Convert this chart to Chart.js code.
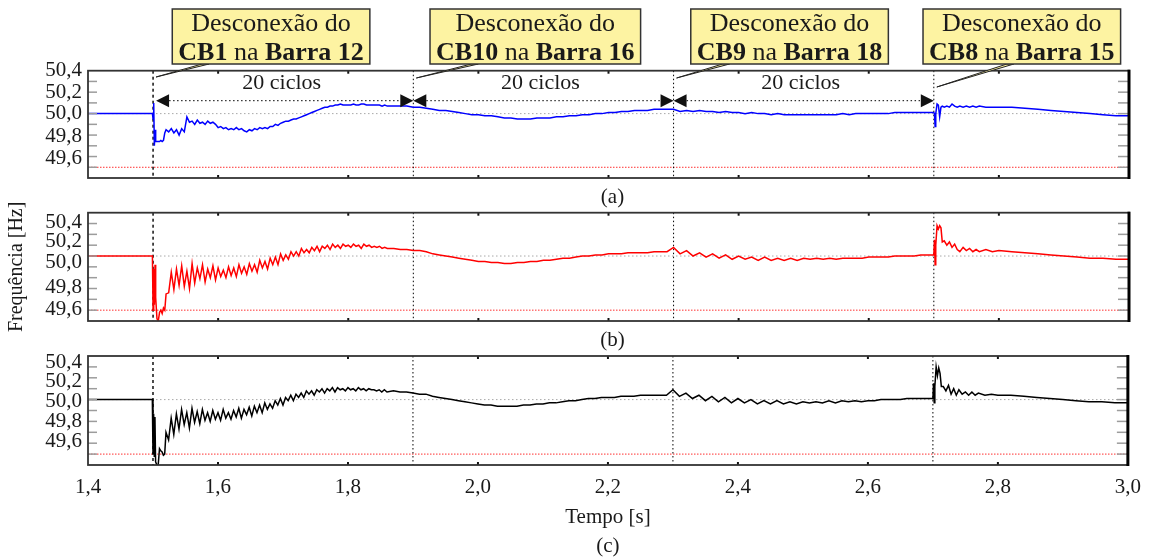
<!DOCTYPE html>
<html>
<head>
<meta charset="utf-8">
<script src="https://cdn.jsdelivr.net/npm/chart.js@4.4.1/dist/chart.umd.min.js"></script>
<style>
  html, body { margin: 0; padding: 0; background: #fff; }
  #wrap { position: relative; width: 1151px; height: 557px; }
  #wrap canvas { position: absolute; left: 0; top: 0; }
</style>
</head>
<body>
<div id="wrap">
  <canvas id="chartA" width="1151" height="557"></canvas>
  <canvas id="chartB" width="1151" height="557"></canvas>
  <canvas id="chartC" width="1151" height="557"></canvas>
</div>
<script>
// instantes de amostragem (s), comuns aos tres graficos
const tempo = [
  1.400, 1.499,
  1.500, 1.501, 1.502, 1.503, 1.504, 1.506, 1.508, 1.510, 1.512, 1.514, 1.516, 1.518, 1.520,
  1.524, 1.528, 1.532, 1.536, 1.540, 1.544, 1.548, 1.552, 1.556, 1.560,
  1.564, 1.568, 1.572, 1.576, 1.580, 1.584, 1.588, 1.592, 1.596, 1.600,
  1.604, 1.608, 1.612, 1.616, 1.620, 1.624, 1.628, 1.632, 1.636, 1.640,
  1.644, 1.648, 1.652, 1.656, 1.660, 1.664, 1.668, 1.672, 1.676, 1.680,
  1.684, 1.688, 1.692, 1.696, 1.700, 1.704, 1.708, 1.712, 1.716, 1.720,
  1.724, 1.728, 1.732, 1.736, 1.740, 1.744, 1.748, 1.752, 1.756, 1.760,
  1.764, 1.768, 1.772, 1.776, 1.780, 1.784, 1.788, 1.792, 1.796, 1.800,
  1.804, 1.808, 1.812, 1.816, 1.820, 1.824, 1.828, 1.832, 1.836, 1.840,
  1.844, 1.848, 1.852, 1.856, 1.860,
  1.87, 1.88, 1.89, 1.90, 1.91, 1.92, 1.93, 1.94, 1.95, 1.96,
  1.97, 1.98, 1.99, 2.00, 2.01, 2.02, 2.03, 2.04, 2.05, 2.06,
  2.07, 2.08, 2.09, 2.10, 2.11, 2.12, 2.13, 2.14, 2.15, 2.16,
  2.17, 2.18, 2.19, 2.20, 2.21, 2.22, 2.23, 2.24, 2.25, 2.26,
  2.27, 2.28, 2.29,
  2.30, 2.31, 2.32, 2.33, 2.34, 2.35, 2.36, 2.37, 2.38, 2.39,
  2.40, 2.41, 2.42, 2.43, 2.44, 2.45, 2.46, 2.47, 2.48, 2.49,
  2.50, 2.51, 2.52, 2.53, 2.54, 2.55, 2.56, 2.57, 2.58, 2.59,
  2.60, 2.61, 2.62, 2.63, 2.64, 2.65, 2.66, 2.67, 2.68, 2.69,
  2.700, 2.701, 2.702, 2.703, 2.705, 2.707, 2.709, 2.711, 2.713, 2.716,
  2.720, 2.724, 2.728, 2.732, 2.736, 2.740, 2.745, 2.750, 2.755, 2.760,
  2.765, 2.770, 2.780, 2.790, 2.800,
  2.82, 2.84, 2.86, 2.88, 2.90, 2.92, 2.94, 2.96, 2.98, 3.00
];

// (a) frequencia em Hz - curva azul
const freqA = [
  50.00, 50.00,
  49.95, 50.10, 49.70, 49.85, 49.74, 49.74, 49.74, 49.74, 49.75, 49.74, 49.75, 49.82, 49.85,
  49.83, 49.86, 49.82, 49.85, 49.80, 49.86, 49.83, 49.97, 49.92, 49.93,
  49.90, 49.94, 49.91, 49.92, 49.90, 49.93, 49.91, 49.92, 49.90, 49.87,
  49.88, 49.86, 49.87, 49.85, 49.86, 49.85, 49.87, 49.85, 49.86, 49.84,
  49.83, 49.85, 49.84, 49.86, 49.85, 49.87, 49.86, 49.87, 49.86, 49.88,
  49.88, 49.90, 49.89, 49.91, 49.92, 49.93, 49.93, 49.94, 49.95, 49.95,
  49.96, 49.97, 49.98, 49.99, 50.00, 50.01, 50.02, 50.03, 50.04, 50.05,
  50.06, 50.06, 50.07, 50.07, 50.08, 50.08, 50.09, 50.08, 50.08, 50.08,
  50.08, 50.09, 50.08, 50.08, 50.09, 50.09, 50.08, 50.08, 50.08, 50.08,
  50.08, 50.08, 50.07, 50.08, 50.07,
  50.07, 50.07, 50.07, 50.06, 50.06, 50.05, 50.04, 50.03, 50.03, 50.02,
  50.01, 50.00, 49.99, 49.99, 49.98, 49.98, 49.97, 49.96, 49.96, 49.95,
  49.95, 49.95, 49.96, 49.96, 49.96, 49.97, 49.97, 49.98, 49.98, 49.99,
  49.99, 50.00, 50.00, 50.01, 50.01, 50.02, 50.02, 50.03, 50.03, 50.03,
  50.04, 50.04, 50.04,
  50.04, 50.02, 50.03, 50.02, 50.03, 50.02, 50.02, 50.01, 50.02, 50.01,
  50.01, 50.00, 50.01, 50.00, 50.00, 49.99, 50.00, 49.99, 49.99, 49.99,
  49.99, 49.99, 49.99, 49.99, 49.99, 49.99, 50.00, 49.99, 50.00, 50.00,
  50.00, 50.00, 50.00, 50.00, 50.01, 50.01, 50.01, 50.01, 50.01, 50.01,
  50.01, 50.00, 49.88, 50.00, 50.09, 50.08, 49.97, 50.06, 50.07, 50.06,
  50.07, 50.06, 50.09, 50.07, 50.06, 50.07, 50.06, 50.07, 50.06, 50.07,
  50.06, 50.07, 50.06, 50.06, 50.06,
  50.06, 50.05, 50.04, 50.03, 50.02, 50.01, 50.00, 49.99, 49.98, 49.98
];

// (b) frequencia em Hz - curva vermelha
const freqB = [
  50.00, 50.00,
  49.50, 49.88, 49.55, 49.92, 49.62, 49.42, 49.40, 49.48, 49.50, 49.47, 49.52, 49.50, 49.65,
  49.66, 49.85, 49.69, 49.88, 49.73, 49.91, 49.72, 49.86, 49.70, 49.93,
  49.75, 49.89, 49.79, 49.92, 49.76, 49.88, 49.80, 49.91, 49.78, 49.89,
  49.81, 49.87, 49.80, 49.90, 49.82, 49.89, 49.81, 49.92, 49.84, 49.90,
  49.83, 49.93, 49.86, 49.92, 49.85, 49.96, 49.89, 49.95, 49.88, 49.98,
  49.92, 49.99, 49.92, 50.02, 49.96, 50.01, 49.97, 50.04, 50.00, 50.04,
  50.00, 50.07, 50.03, 50.06, 50.03, 50.08, 50.05, 50.09, 50.04, 50.09,
  50.07, 50.10, 50.06, 50.11, 50.08, 50.10, 50.07, 50.11, 50.09, 50.10,
  50.08, 50.11, 50.09, 50.10, 50.07, 50.11, 50.09, 50.10, 50.08, 50.09,
  50.08, 50.09, 50.07, 50.08, 50.07,
  50.07, 50.06, 50.06, 50.05, 50.05, 50.04, 50.02, 50.01, 50.00, 49.99,
  49.98, 49.97, 49.96, 49.95, 49.95, 49.94, 49.94, 49.93, 49.93, 49.94,
  49.94, 49.95, 49.95, 49.96, 49.96, 49.97, 49.98, 49.98, 49.99, 50.00,
  50.00, 50.01, 50.01, 50.02, 50.02, 50.02, 50.03, 50.03, 50.03, 50.03,
  50.04, 50.04, 50.04,
  50.08, 50.02, 50.05, 50.00, 50.03, 49.99, 50.02, 49.98, 50.01, 49.97,
  50.00, 49.97, 49.99, 49.96, 49.99, 49.96, 49.98, 49.96, 49.98, 49.96,
  49.98, 49.97, 49.98, 49.97, 49.98, 49.97, 49.98, 49.98, 49.98, 49.98,
  49.99, 49.99, 49.99, 49.99, 50.00, 50.00, 50.00, 50.00, 50.01, 50.01,
  50.01, 50.15, 49.92, 50.10, 50.28, 50.25, 50.28, 50.26, 50.13, 50.14,
  50.10, 50.13, 50.08, 50.11, 50.06, 50.04, 50.08, 50.05, 50.07, 50.04,
  50.06, 50.04, 50.06, 50.04, 50.05,
  50.04, 50.03, 50.02, 50.01, 50.00, 49.99, 49.98, 49.98, 49.97, 49.97
];

// (c) frequencia em Hz - curva preta
const freqC = [
  50.00, 50.00,
  49.50, 49.87, 49.48, 49.84, 49.43, 49.40, 49.40, 49.55, 49.53, 49.52, 49.49, 49.50, 49.70,
  49.63, 49.83, 49.68, 49.87, 49.73, 49.91, 49.77, 49.88, 49.74, 49.92,
  49.79, 49.89, 49.78, 49.91, 49.81, 49.88, 49.80, 49.90, 49.82, 49.88,
  49.81, 49.91, 49.83, 49.88, 49.82, 49.90, 49.84, 49.92, 49.83, 49.91,
  49.86, 49.93, 49.85, 49.94, 49.88, 49.95, 49.88, 49.97, 49.91, 49.96,
  49.92, 49.99, 49.95, 50.01, 49.95, 50.02, 49.99, 50.04, 49.99, 50.05,
  50.02, 50.06, 50.02, 50.08, 50.05, 50.08, 50.04, 50.09, 50.07, 50.10,
  50.06, 50.10, 50.08, 50.11, 50.07, 50.11, 50.09, 50.10, 50.08, 50.11,
  50.09, 50.10, 50.08, 50.11, 50.09, 50.10, 50.08, 50.10, 50.09, 50.09,
  50.08, 50.09, 50.07, 50.09, 50.07,
  50.08, 50.07, 50.07, 50.06, 50.05, 50.05, 50.03, 50.02, 50.01, 50.00,
  49.99, 49.98, 49.97, 49.96, 49.95, 49.95, 49.94, 49.94, 49.94, 49.94,
  49.95, 49.95, 49.96, 49.96, 49.97, 49.97, 49.98, 49.99, 49.99, 50.00,
  50.01, 50.01, 50.02, 50.02, 50.02, 50.03, 50.03, 50.03, 50.04, 50.04,
  50.04, 50.04, 50.04,
  50.09, 50.03, 50.06, 50.01, 50.04, 49.99, 50.03, 49.98, 50.02, 49.97,
  50.01, 49.97, 50.00, 49.96, 49.99, 49.96, 49.99, 49.96, 49.98, 49.96,
  49.98, 49.97, 49.98, 49.97, 49.99, 49.97, 49.99, 49.98, 49.99, 49.98,
  49.99, 49.99, 50.00, 50.00, 50.00, 50.00, 50.01, 50.01, 50.01, 50.01,
  50.01, 50.15, 49.97, 50.12, 50.30, 50.22, 50.29, 50.24, 50.12, 50.12,
  50.08, 50.13, 50.05, 50.10, 50.04, 50.09, 50.05, 50.07, 50.04, 50.07,
  50.04, 50.06, 50.04, 50.05, 50.04,
  50.04, 50.03, 50.02, 50.01, 50.00, 49.99, 49.98, 49.98, 49.97, 49.97
];

// eventos de desconexao (s) e textos dos baloes
const eventos = [1.5, 1.9, 2.3, 2.7];
const disjuntores = ['CB1', 'CB10', 'CB9', 'CB8'];
const barras = ['Barra 12', 'Barra 16', 'Barra 18', 'Barra 15'];
const rotuloCiclos = '20 ciclos';

const xTicks = [1.4, 1.6, 1.8, 2.0, 2.2, 2.4, 2.6, 2.8, 3.0];
const xTickLabels = ['1,4', '1,6', '1,8', '2,0', '2,2', '2,4', '2,6', '2,8', '3,0'];
const yTickLabels = ['50,4', '50,2', '50,0', '49,8', '49,6'];
const yMinor = [49.5, 49.6, 49.7, 49.8, 49.9, 50.0, 50.1, 50.2, 50.3];
const nominal = 50.0;
const limite = 49.5;

if (freqA.length !== tempo.length || freqB.length !== tempo.length || freqC.length !== tempo.length) {
  throw new Error('tamanhos: ' + tempo.length + ' ' + freqA.length + ' ' + freqB.length + ' ' + freqC.length);
}

const SERIF = '"Liberation Serif", "Times New Roman", serif';
const TXT = '#1a1a1a';
Chart.defaults.font.family = SERIF;
Chart.defaults.color = TXT;

function seg(ctx, x1, y1, x2, y2) {
  ctx.beginPath(); ctx.moveTo(x1, y1); ctx.lineTo(x2, y2); ctx.stroke();
}

const painel = {
  id: 'painel',
  beforeDatasetsDraw(chart) {
    const { ctx, chartArea: a, scales: { x, y } } = chart;
    ctx.save();
    ctx.lineWidth = 1;
    ctx.strokeStyle = '#a8a8a8';
    ctx.setLineDash([1.5, 2.5]);
    let py = y.getPixelForValue(nominal);
    seg(ctx, a.left, py, a.right, py);
    ctx.strokeStyle = '#ff3030';
    ctx.setLineDash([1.5, 1.5]);
    py = y.getPixelForValue(limite);
    seg(ctx, a.left, py, a.right, py);
    ctx.strokeStyle = '#000';
    eventos.forEach((t, i) => {
      const px = x.getPixelForValue(t);
      ctx.lineWidth = i === 0 ? 1.4 : 1;
      ctx.setLineDash(i === 0 ? [3, 3] : [1.5, 2.5]);
      seg(ctx, px, a.top, px, a.bottom);
    });
    ctx.restore();
  },
  afterDatasetsDraw(chart) {
    const { ctx, chartArea: a, scales: { x, y } } = chart;
    ctx.save();
    ctx.setLineDash([]);
    ctx.strokeStyle = '#9c9c9c';
    ctx.lineWidth = 1.5;
    yMinor.forEach(v => {
      const py = y.getPixelForValue(v);
      seg(ctx, a.left, py, a.left + 9, py);
      seg(ctx, a.right - 11, py, a.right, py);
    });
    ctx.strokeStyle = '#111';
    ctx.lineWidth = 2;
    xTicks.slice(1, -1).forEach(t => {
      const px = x.getPixelForValue(t);
      seg(ctx, px, a.top, px, a.top + 3);
      seg(ctx, px, a.bottom - 3, px, a.bottom);
    });
    ctx.strokeStyle = '#333';
    ctx.lineWidth = 1.8;
    ctx.strokeRect(a.left, a.top, a.right - a.left, a.bottom - a.top);
    ctx.strokeStyle = '#000';
    ctx.lineWidth = 3;
    seg(ctx, a.right, a.top - 1, a.right, a.bottom + 1);
    ctx.restore();
  },
  afterDraw(chart, args, opts) {
    if (!opts.legenda) return;
    const { ctx, chartArea: a } = chart;
    ctx.save();
    ctx.font = '21px ' + SERIF;
    ctx.fillStyle = TXT;
    ctx.textAlign = 'center';
    ctx.textBaseline = 'middle';
    ctx.fillText(opts.legenda, (a.left + a.right) / 2 + 4, a.bottom + 19);
    ctx.restore();
  }
};

const anotacoes = {
  id: 'anotacoes',
  afterDraw(chart) {
    const { ctx, chartArea: a, scales: { x } } = chart;
    const ev = eventos.map(t => x.getPixelForValue(t));
    ctx.save();
    const yTexto = a.top + 12.5, ySeta = a.top + 30;
    const tri = (xt, yt, dir) => {
      ctx.beginPath(); ctx.moveTo(xt, yt);
      ctx.lineTo(xt + dir * 13, yt - 6.5); ctx.lineTo(xt + dir * 13, yt + 6.5);
      ctx.closePath(); ctx.fill();
    };
    for (let i = 0; i < ev.length - 1; i++) {
      const x1 = ev[i] + (i === 0 ? 3 : 0), x2 = ev[i + 1];
      ctx.strokeStyle = '#000'; ctx.lineWidth = 1; ctx.setLineDash([1.5, 2.5]);
      seg(ctx, x1 + 13, ySeta, x2 - 13, ySeta);
      ctx.setLineDash([]);
      ctx.fillStyle = '#111';
      tri(x1, ySeta, 1);
      tri(x2, ySeta, -1);
      ctx.font = '22px ' + SERIF;
      ctx.textAlign = 'center'; ctx.textBaseline = 'middle';
      ctx.fillStyle = TXT;
      ctx.fillText(rotuloCiclos, (x1 + x2) / 2 - 3, yTexto);
    }
    // baloes
    const balaoDx = [118, 122, 116, 88];
    const pontaDx = [52, 61, 52, 76];
    const pontaY = [77, 78, 78, 87];
    const fN = '26px ' + SERIF, fB = 'bold 26px ' + SERIF;
    const topo = 9, alt = 55;
    disjuntores.forEach((cb, i) => {
      ctx.font = fN;
      const w1 = ctx.measureText('Desconexão do').width;
      const partes = [[cb, fB], [' na ', fN], [barras[i], fB]];
      let w2 = 0;
      partes.forEach(([t, f]) => { ctx.font = f; w2 += ctx.measureText(t).width; });
      const w = Math.max(w1, w2) + 12;
      const cx = ev[i] + balaoDx[i];
      const bx = ev[i] + pontaDx[i];
      ctx.setLineDash([]);
      ctx.fillStyle = '#fdf3a2';
      ctx.strokeStyle = '#222';
      ctx.lineWidth = 1;
      ctx.beginPath();
      ctx.moveTo(ev[i] + 3, pontaY[i]);
      ctx.lineTo(bx - 3, topo + alt);
      ctx.lineTo(bx + 4, topo + alt);
      ctx.closePath();
      ctx.fill(); ctx.stroke();
      ctx.lineWidth = 1.5;
      ctx.strokeStyle = '#333';
      ctx.fillRect(cx - w / 2, topo, w, alt);
      ctx.strokeRect(cx - w / 2, topo, w, alt);
      ctx.fillStyle = TXT;
      ctx.textBaseline = 'alphabetic';
      ctx.textAlign = 'center';
      ctx.font = fN;
      ctx.fillText('Desconexão do', cx, topo + 22);
      ctx.textAlign = 'left';
      let xx = cx - w2 / 2;
      partes.forEach(([t, f]) => {
        ctx.font = f;
        ctx.fillText(t, xx, topo + 51);
        xx += ctx.measureText(t).width;
      });
    });
    ctx.restore();
  }
};

function criarPainel(id, serie, cor, posTicks, pad, extra) {
  const mostraX = !!extra.eixoX;
  return new Chart(document.getElementById(id), {
    type: 'line',
    data: {
      datasets: [{
        data: tempo.map((t, i) => ({ x: t, y: serie[i] })),
        borderColor: cor,
        borderWidth: 1.5,
        pointRadius: 0,
        tension: 0,
        fill: false
      }]
    },
    options: {
      responsive: false,
      animation: false,
      events: [],
      parsing: false,
      layout: { padding: pad },
      plugins: {
        legend: { display: false },
        tooltip: { enabled: false },
        painel: { legenda: extra.legenda || null }
      },
      scales: {
        x: {
          type: 'linear',
          min: 1.4,
          max: 3.0,
          display: mostraX,
          afterBuildTicks: s => { s.ticks = xTicks.map(v => ({ value: v })); },
          afterFit: s => { if (mostraX) s.height = 92; },
          grid: { display: false, drawTicks: false },
          border: { display: false },
          ticks: {
            callback: (v, i) => xTickLabels[i],
            font: { size: 21 },
            color: TXT,
            padding: 10,
            maxRotation: 0,
            autoSkip: false
          },
          title: {
            display: mostraX,
            text: ['Tempo [s]', '(c)'],
            font: { size: 21, lineHeight: 1.38 },
            color: TXT,
            padding: { top: 0, bottom: -3.5 }
          }
        },
        y: {
          min: 49.4,
          max: 50.4,
          afterBuildTicks: s => { s.ticks = posTicks.map(v => ({ value: v })); },
          afterFit: s => { s.width = 88; },
          grid: { display: false, drawTicks: false },
          border: { display: false },
          ticks: {
            callback: (v, i) => yTickLabels[i],
            font: { size: 21 },
            color: TXT,
            padding: 6,
            autoSkip: false
          },
          title: {
            display: !!extra.tituloY,
            text: 'Frequência [Hz]',
            font: { size: 20, lineHeight: 1.2 },
            color: TXT,
            padding: { top: 5, bottom: 0 }
          }
        }
      }
    },
    plugins: extra.anotar ? [painel, anotacoes] : [painel]
  });
}

criarPainel('chartA', freqA, '#0000ff', [50.4, 50.2, 50.0, 49.79, 49.58],
  { left: 0, right: 22, top: 70.7, bottom: 379 }, { legenda: '(a)', anotar: true });
criarPainel('chartB', freqB, '#ff0000', [50.31, 50.13, 49.94, 49.71, 49.51],
  { left: 0, right: 22, top: 212.7, bottom: 236 }, { legenda: '(b)', tituloY: true });
criarPainel('chartC', freqC, '#000000', [50.34, 50.17, 49.98, 49.80, 49.62],
  { left: 0, right: 22, top: 356, bottom: 0 }, { eixoX: true });
</script>
</body>
</html>
